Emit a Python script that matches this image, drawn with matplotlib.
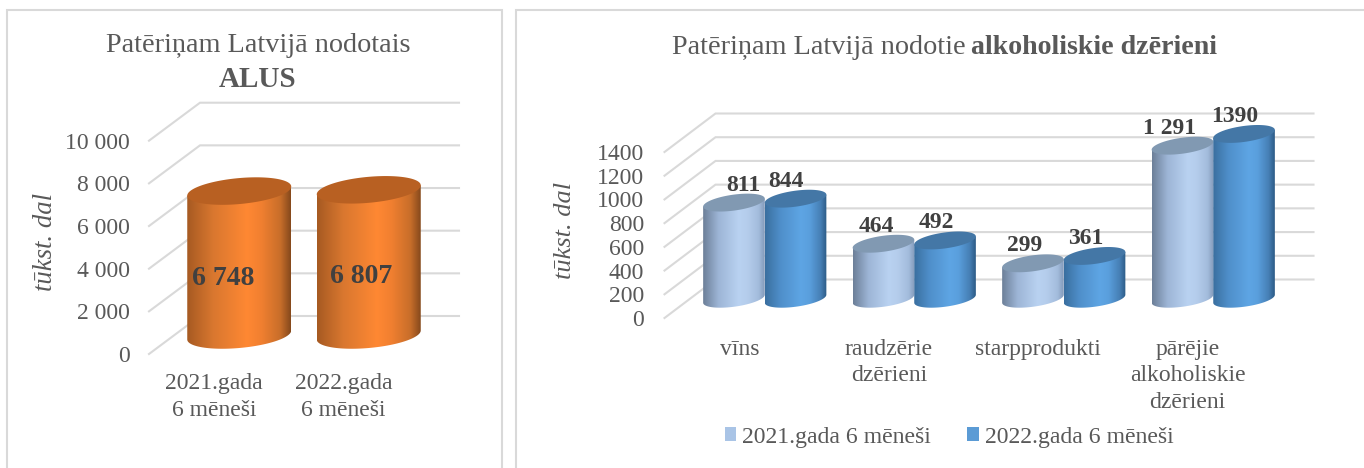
import numpy as np
import matplotlib
matplotlib.use("Agg")
import matplotlib.pyplot as plt
from matplotlib.colors import to_rgb
from matplotlib.patches import Rectangle, Patch
from matplotlib.path import Path
from matplotlib.transforms import IdentityTransform

plt.rcParams['font.family'] = ['Liberation Serif', 'DejaVu Serif']

W, H = 1364, 468

# left chart
beer_periods = ['2021.gada\n6 mēneši', '2022.gada\n6 mēneši']
beer_values = [6748, 6807]
beer_labels = ['6 748', '6 807']
beer_ticks = [0, 2000, 4000, 6000, 8000, 10000]
beer_ticklabels = ['0', '2 000', '4 000', '6 000', '8 000', '10 000']

# right chart
drink_names = ['vīns', 'raudzērie\ndzērieni', 'starpprodukti', 'pārējie\nalkoholiskie\ndzērieni']
drink_2021 = [811, 464, 299, 1291]
drink_2022 = [844, 492, 361, 1390]
drink_labels_2021 = ['811', '464', '299', '1 291']
drink_labels_2022 = ['844', '492', '361', '1390']
drink_ticks = [0, 200, 400, 600, 800, 1000, 1200, 1400]
series_names = ['2021.gada 6 mēneši', '2022.gada 6 mēneši']

TEXT = '#595959'
GRID = '#d9d9d9'

ORANGE = (['#a65a22', '#d9772f', '#ff8833', '#f07f30', '#c86e2a', '#86491c'], '#b86022')
LIGHT = (['#6c7f98', '#9db5d6', '#b9d2f1', '#b5cdec', '#a3bcdc', '#8299b9'], '#8199b2')
BLUE = (['#3a6f9f', '#4f8fca', '#5ea5e4', '#5a9fdd', '#467fb5', '#2c5a85'], '#4477a6')
STOPS = [0, 0.25, 0.58, 0.72, 0.9, 1]

fig = plt.figure(figsize=(W / 100, H / 100), dpi=100)


def make_axes(x0, x1, ytop, ybot, xlim, ylim):
    ax = fig.add_axes([x0 / W, 1 - ybot / H, (x1 - x0) / W, (ybot - ytop) / H])
    ax.set_xlim(*xlim)
    ax.set_ylim(*ylim)
    ax.patch.set_visible(False)
    for s in ax.spines.values():
        s.set_visible(False)
    return ax


def walls(ax, ticks, dx, dy):
    # diagonal on the side wall and line on the back wall for each tick
    x0, x1 = ax.get_xlim()
    for t in ticks:
        a = ax.transData.transform((x0, t))
        b = ax.transData.transform((x1, t))
        ax.plot([a[0], a[0] + dx, b[0] + dx], [a[1], a[1] + dy, b[1] + dy],
                color=GRID, lw=1.5, transform=IdentityTransform(), clip_on=False,
                zorder=1, solid_joinstyle='miter')


def cylinder(ax, xpos, value, half, b, tilt, dx, dy, colours, zorder):
    stops, top_colour = colours
    base = ax.transData.transform((xpos, 0)) + np.array([dx / 2, dy / 2])
    top = ax.transData.transform((xpos, value)) + np.array([dx / 2, dy / 2])
    t = np.linspace(0, 2 * np.pi, 121)
    ex = half * np.cos(t)
    ey = b * np.sin(t) + tilt * np.cos(t)

    low = t[60:121]  # lower half of the base ellipse, left to right
    body_x = np.r_[base[0] + half * np.cos(low), top[0] + half, top[0] - half]
    body_y = np.r_[base[1] + b * np.sin(low) + tilt * np.cos(low), top[1] + tilt, top[1] - tilt]
    body = Path(np.column_stack([np.r_[body_x, body_x[0]], np.r_[body_y, body_y[0]]]), closed=True)

    rgb = np.array([to_rgb(c) for c in stops])
    u = np.linspace(0, 1, 200)
    grad = np.stack([np.interp(u, STOPS, rgb[:, i]) for i in range(3)], axis=1)[None, :, :]
    im = ax.imshow(grad, extent=(base[0] - half, base[0] + half, base[1] - b - 2, top[1] + b + 2),
                   transform=IdentityTransform(), aspect='auto', interpolation='bilinear', zorder=zorder)
    im.set_clip_path(body, IdentityTransform())
    im.set_clip_box(fig.bbox)
    ax.fill(top[0] + ex, top[1] + ey, color=top_colour, lw=0,
            transform=IdentityTransform(), clip_on=False, zorder=zorder + 0.1)
    return top


def style_ticks(ax, size, pad_y, pad_x):
    ax.tick_params(axis='y', length=0, labelsize=size, labelcolor=TEXT, pad=pad_y)
    ax.tick_params(axis='x', length=0, labelsize=size, labelcolor=TEXT, pad=pad_x)


# frames, they run off the bottom and right of the picture
fig.add_artist(Rectangle((7 / W, -0.02), 494.5 / W, 1.02 - 9.5 / H, transform=fig.transFigure,
                         fill=False, ec=GRID, lw=1.5))
fig.add_artist(Rectangle((515.5 / W, -0.02), 870 / W, 1.02 - 10 / H, transform=fig.transFigure,
                         fill=False, ec=GRID, lw=1.5))

# ---- left chart
ax1 = make_axes(149, 408, 140.7, 354, (-0.5, 1.5), (0, 10000))
ax1.set_xticks(range(len(beer_periods)), beer_periods, linespacing=1.35)
ax1.set_yticks(beer_ticks, beer_ticklabels)
style_ticks(ax1, 17, 14, 14)
walls(ax1, beer_ticks, 51, 38)
for i, v in enumerate(beer_values):
    top = cylinder(ax1, i, v, 52, 13, 4.5, 51, 38, ORANGE, 3 + i)
    ax1.annotate(beer_labels[i], (i, v / 2), xytext=(25.5 + [-16, -8][i], 19 + [-15, -14][i]),
                 xycoords='data', textcoords='offset pixels', ha='center', va='center',
                 fontsize=20, fontweight='bold', color='#404040', zorder=10)
ax1.set_xlim(-0.5, 1.5)
ax1.set_ylim(0, 10000)

# ---- right chart
ax2 = make_axes(664.5, 1262.5, 152, 318, (-0.5, 3.5), (0, 1400))
ax2.set_xticks(range(len(drink_names)), drink_names, linespacing=1.35)
ax2.set_yticks(drink_ticks)
style_ticks(ax2, 17, 14.5, 15)
walls(ax2, drink_ticks, 51, 38.5)
offs = 0.206
label_dx = [[9, -7, -8, -12.7], [-9.5, -9, -9, -9.3]]
for i in range(len(drink_names)):
    for j, (vals, names, col) in enumerate([(drink_2021, drink_labels_2021, LIGHT),
                                            (drink_2022, drink_labels_2022, BLUE)]):
        xp = i + (j * 2 - 1) * offs
        cylinder(ax2, xp, vals[i], 30.8, 8, 4, 51, 38.5, col, 3 + j)
        ax2.annotate(names[i], (xp, vals[i]), xytext=(25.5 + label_dx[j][i], 19.25 + 17.5),
                     xycoords='data', textcoords='offset pixels', ha='center', va='center',
                     fontsize=17, fontweight='bold', color='#404040', zorder=10)
ax2.set_xlim(-0.5, 3.5)
ax2.set_ylim(0, 1400)

handles = [Patch(color='#a9c4e6', lw=0), Patch(color='#5b9bd5', lw=0)]
fig.legend(handles, series_names, ncol=2, frameon=False, fontsize=17.1, labelcolor=TEXT,
           loc='center', bbox_to_anchor=(949 / W, 1 - 437 / H),
           handlelength=0.5, handleheight=0.5, handletextpad=0.25, columnspacing=1.5)

# titles and axis names
def ftext(x, y, s, **kw):
    fig.text(x / W, 1 - y / H, s, va='center', color=TEXT, **kw)


ftext(258, 46, 'Patēriņam Latvijā nodotais', ha='center', fontsize=20.3)
ftext(258, 79, 'ALUS', ha='center', fontsize=21, fontweight='bold')
ftext(966, 48, 'Patēriņam Latvijā nodotie', ha='right', fontsize=20.3)
ftext(971, 48, 'alkoholiskie dzērieni', ha='left', fontsize=20.1, fontweight='bold')
ftext(46, 242, 'tūkst. dal', ha='center', rotation=90, fontsize=19.3, style='italic')
ftext(565, 230, 'tūkst. dal', ha='center', rotation=90, fontsize=19, style='italic')

fig.savefig('out.png', dpi=100)
